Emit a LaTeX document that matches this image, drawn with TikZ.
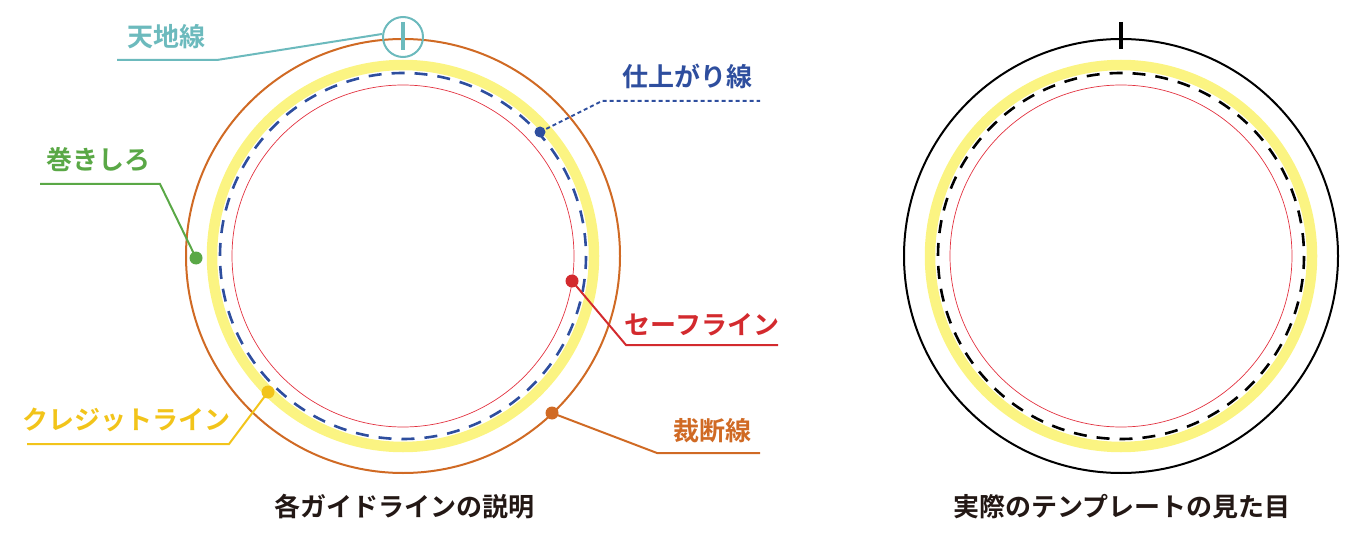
\documentclass[tikz,border=0pt]{standalone}
\usepackage{fontspec}
\newfontfamily\jpfont{Noto Sans CJK JP Bold}
\definecolor{cteal}{RGB}{108,186,189}
\definecolor{cgreen}{RGB}{90,168,70}
\definecolor{cblue}{RGB}{46,78,158}
\definecolor{cred}{RGB}{211,42,46}
\definecolor{corange}{RGB}{208,106,36}
\definecolor{cgold}{RGB}{242,196,26}
\definecolor{cyellow}{RGB}{251,244,130}
\definecolor{cthin}{RGB}{226,50,64}
\definecolor{cink}{RGB}{35,24,21}
\tikzset{
  band/.style={draw=cyellow,line width=10.5pt},
  finish/.style={draw=#1,line width=2.6pt,dash pattern=on 13pt off 10pt},
  safe/.style={draw=cthin,line width=0.7pt},
  cut/.style={draw=#1,line width=2pt},
  leader/.style={draw=#1,line width=2pt},
  dotmark/.style={circle,fill=#1,draw=none,inner sep=0pt,minimum size=13pt},
  lbl/.style={font=\jpfont\fontsize{26}{26}\selectfont,text=#1,inner sep=0pt},
  ttl/.style={font=\jpfont\fontsize{26}{26}\selectfont,text=cink,inner sep=0pt}
}
\begin{document}
\begin{tikzpicture}[x=1pt,y=-1pt]
\useasboundingbox (0,0) rectangle (1365,540);
% ---------- left figure ----------
\coordinate (L) at (403,256);
\draw[band] (L) circle (191);
\draw[finish=cblue] (L) circle (183);
\draw[safe] (L) circle (171);
\draw[cut=corange] (L) circle (217);
% top mark
\node[circle,draw=cteal,line width=2pt,minimum size=40pt,inner sep=0pt] (mark) at (403,37) {};
\draw[cteal,line width=4pt] (403,22) -- (403,50);
% labels
\node[lbl=cteal] (tenchi) at (166,37) {天地線};
\coordinate (tenchiA) at (217,60);
\coordinate (tenchiB) at (117,60);
\draw[leader=cteal] (mark.west) ++(0,-3) -- (tenchiA) -- (tenchiB);

\node[dotmark=cgreen] (dgreen) at (196,258) {};
\node[lbl=cgreen] (maki) at (98,160) {巻きしろ};
\coordinate (makiA) at (160,184);
\coordinate (makiB) at (40,184);
\draw[leader=cgreen] (dgreen.center) -- (makiA) -- (makiB);

\node[dotmark=cblue,minimum size=11pt] (dblue) at (540,132) {};
\node[lbl=cblue] (shiage) at (687,76) {仕上がり線};
\coordinate (shiageA) at (602,101);
\coordinate (shiageB) at (760,101);
\draw[leader=cblue,dash pattern=on 4pt off 3pt] (dblue.center) -- (shiageA) -- (shiageB);

\node[dotmark=cred] (dred) at (572,281) {};
\node[lbl=cred] (safe) at (702,325) {セーフライン};
\coordinate (safeA) at (626,345);
\coordinate (safeB) at (778,345);
\draw[leader=cred] (dred.center) -- (safeA) -- (safeB);

\node[dotmark=corange] (dorange) at (552,413) {};
\node[lbl=corange] (saidan) at (712,431) {裁断線};
\coordinate (saidanA) at (657,453);
\coordinate (saidanB) at (760,453);
\draw[leader=corange] (dorange.center) -- (saidanA) -- (saidanB);

\node[dotmark=cgold] (dgold) at (268,392) {};
\node[lbl=cgold] (credit) at (126,420) {クレジットライン};
\coordinate (creditA) at (229,444);
\coordinate (creditB) at (27,444);
\draw[leader=cgold] (dgold.center) -- (creditA) -- (creditB);

\node[ttl] (titleL) at (404,507) {各ガイドラインの説明};
% ---------- right figure ----------
\coordinate (R) at (1121,256);
\draw[band] (R) circle (191);
\draw[finish=black] (R) circle (183);
\draw[safe] (R) circle (171);
\draw[cut=black] (R) circle (217);
\draw[black,line width=3.2pt] (1121,22) -- (1121,49);
\node[ttl] (titleR) at (1122,507) {実際のテンプレートの見た目};
\end{tikzpicture}
\end{document}
